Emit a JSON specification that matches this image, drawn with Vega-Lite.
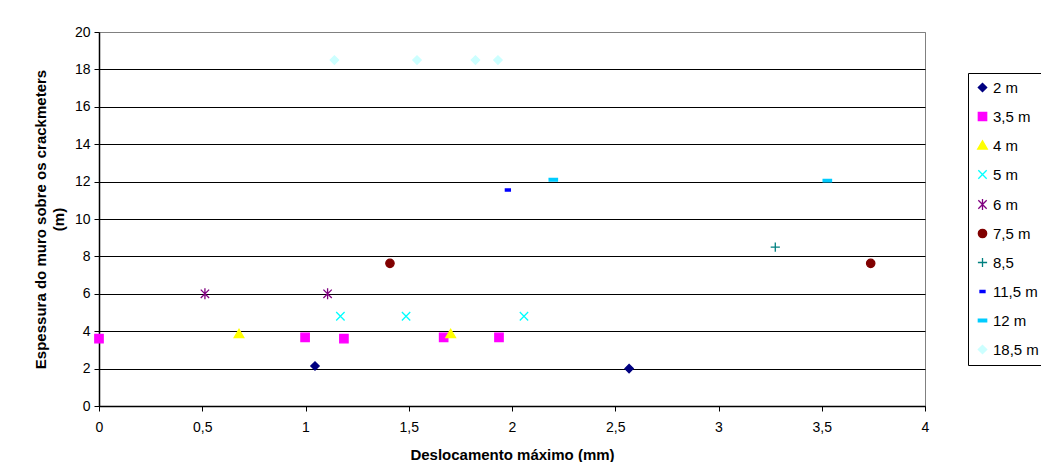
{
  "$schema": "https://vega.github.io/schema/vega-lite/v6.json",
  "width": 826,
  "height": 374,
  "autosize": {"type": "pad"},
  "padding": {"left": 33, "top": 25, "right": 0, "bottom": 0},
  "background": "white",
  "config": {
    "font": "Liberation Sans",
    "view": {"stroke": "#808080", "strokeWidth": 1},
    "axis": {
      "domainColor": "black",
      "domainWidth": 1.5,
      "tickColor": "black",
      "tickSize": 5,
      "tickWidth": 1,
      "labelColor": "black",
      "labelFontSize": 14,
      "labelFont": "Liberation Sans",
      "titleColor": "black",
      "titleFont": "Liberation Sans",
      "titleFontSize": 15,
      "titleFontWeight": "bold"
    },
    "legend": {
      "labelFont": "Liberation Sans",
      "labelFontSize": 15,
      "labelColor": "black"
    }
  },
  "data": {
    "values": [
      {"serie": "2 m", "desloc": 1.046, "espessura": 2.14},
      {"serie": "2 m", "desloc": 2.567, "espessura": 2.0},
      {"serie": "3,5 m", "desloc": 0.0, "espessura": 3.6},
      {"serie": "3,5 m", "desloc": 0.998, "espessura": 3.67},
      {"serie": "3,5 m", "desloc": 1.186, "espessura": 3.6},
      {"serie": "3,5 m", "desloc": 1.669, "espessura": 3.67},
      {"serie": "3,5 m", "desloc": 1.937, "espessura": 3.67},
      {"serie": "4 m", "desloc": 0.678, "espessura": 3.85},
      {"serie": "4 m", "desloc": 1.703, "espessura": 3.85},
      {"serie": "5 m", "desloc": 1.169, "espessura": 4.8},
      {"serie": "5 m", "desloc": 1.487, "espessura": 4.8},
      {"serie": "5 m", "desloc": 2.058, "espessura": 4.8},
      {"serie": "6 m", "desloc": 0.513, "espessura": 6.0},
      {"serie": "6 m", "desloc": 1.107, "espessura": 6.0},
      {"serie": "7,5 m", "desloc": 1.409, "espessura": 7.63},
      {"serie": "7,5 m", "desloc": 3.737, "espessura": 7.63},
      {"serie": "8,5", "desloc": 3.275, "espessura": 8.5},
      {"serie": "11,5 m", "desloc": 1.98, "espessura": 11.55},
      {"serie": "12 m", "desloc": 2.2, "espessura": 12.1},
      {"serie": "12 m", "desloc": 3.527, "espessura": 12.05},
      {"serie": "18,5 m", "desloc": 1.14, "espessura": 18.5},
      {"serie": "18,5 m", "desloc": 1.54, "espessura": 18.5},
      {"serie": "18,5 m", "desloc": 1.823, "espessura": 18.5},
      {"serie": "18,5 m", "desloc": 1.932, "espessura": 18.5}
    ]
  },
  "mark": {"type": "point", "opacity": 1, "size": 70, "strokeWidth": 1.3},
  "encoding": {
    "x": {
      "field": "desloc",
      "type": "quantitative",
      "scale": {"domain": [0, 4], "nice": false, "zero": false},
      "axis": {
        "values": [0, 0.5, 1, 1.5, 2, 2.5, 3, 3.5, 4],
        "grid": false,
        "labelPadding": 9,
        "titlePadding": 13,
        "labelFlush": false,
        "labelExpr": "replace(format(datum.value, ''), '.', ',')",
        "title": "Deslocamento máximo (mm)"
      }
    },
    "y": {
      "field": "espessura",
      "type": "quantitative",
      "scale": {"domain": [0, 20], "nice": false},
      "axis": {
        "values": [0, 2, 4, 6, 8, 10, 12, 14, 16, 18, 20],
        "grid": true,
        "gridColor": {"condition": {"test": "datum.value == 20", "value": "#808080"}, "value": "black"},
        "gridWidth": 1,
        "labelPadding": 4,
        "titlePadding": 8,
        "titleLineHeight": 18,
        "title": ["Espessura do muro sobre os crackmeters", "(m)"]
      }
    },
    "fill": {
      "field": "serie",
      "type": "nominal",
      "scale": {
        "domain": ["2 m", "3,5 m", "4 m", "5 m", "6 m", "7,5 m", "8,5", "11,5 m", "12 m", "18,5 m"],
        "range": ["#000080", "#FF00FF", "#FFFF00", "#00FFFF", "#800080", "#800000", "#008080", "#0000FF", "#00CCFF", "#CCFFFF"]
      },
      "legend": {
        "title": null,
        "orient": "none",
        "legendX": 869,
        "legendY": 41,
        "strokeColor": "black",
        "padding": 7,
        "rowPadding": 13,
        "symbolSize": 70,
        "symbolStrokeWidth": 1.3,
        "labelOffset": 3
      }
    },
    "stroke": {
      "field": "serie",
      "type": "nominal",
      "scale": {
        "domain": ["2 m", "3,5 m", "4 m", "5 m", "6 m", "7,5 m", "8,5", "11,5 m", "12 m", "18,5 m"],
        "range": ["#000080", "#FF00FF", "#FFFF00", "#00FFFF", "#800080", "#800000", "#008080", "#0000FF", "#00CCFF", "#CCFFFF"]
      },
      "legend": {
        "title": null,
        "orient": "none",
        "legendX": 869,
        "legendY": 41,
        "strokeColor": "black",
        "padding": 7,
        "rowPadding": 13,
        "symbolSize": 70,
        "symbolStrokeWidth": 1.3,
        "labelOffset": 3
      }
    },
    "shape": {
      "field": "serie",
      "type": "nominal",
      "scale": {
        "domain": ["2 m", "3,5 m", "4 m", "5 m", "6 m", "7,5 m", "8,5", "11,5 m", "12 m", "18,5 m"],
        "range": ["diamond", "square", "M0,-1.1L1.15,0.85L-1.15,0.85Z", "M-1,-1L1,1M-1,1L1,-1", "M-1,-1L1,1M-1,1L1,-1M0,-1.3L0,1.3", "circle", "M-1.1,0L1.1,0M0,-1.1L0,1.1", "M-0.6,-0.25L0.6,-0.25L0.6,0.25L-0.6,0.25Z", "M-1,-0.3L1,-0.3L1,0.3L-1,0.3Z", "diamond"]
      },
      "legend": {
        "title": null,
        "orient": "none",
        "legendX": 869,
        "legendY": 41,
        "strokeColor": "black",
        "padding": 7,
        "rowPadding": 13,
        "symbolSize": 70,
        "symbolStrokeWidth": 1.3,
        "labelOffset": 3
      }
    }
  }
}
